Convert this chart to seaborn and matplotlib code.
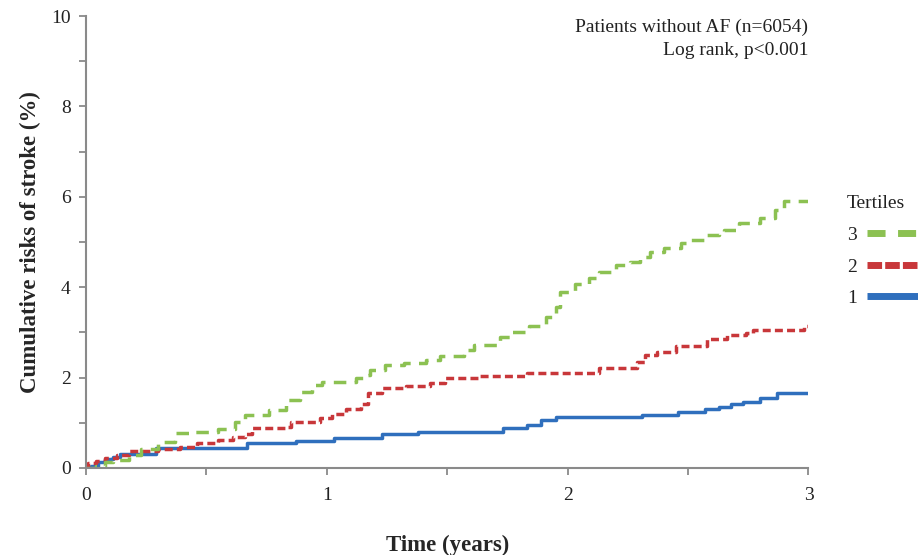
import pandas as pd
import matplotlib
matplotlib.use("Agg")
import matplotlib.pyplot as plt
from matplotlib.lines import Line2D
from matplotlib.ticker import MultipleLocator
import seaborn as sns

# Kaplan-Meier style cumulative stroke risk (%) by tertile, step points
t1_time = [0.00, 0.02, 0.05, 0.08, 0.11, 0.14, 0.29, 0.67, 0.87, 1.03, 1.23, 1.38,
           1.73, 1.83, 1.89, 1.95, 2.31, 2.46, 2.57, 2.63, 2.68, 2.73, 2.80, 2.87, 3.00]
t1_risk = [0.00, 0.05, 0.12, 0.19, 0.25, 0.30, 0.44, 0.55, 0.60, 0.65, 0.75, 0.80,
           0.88, 0.95, 1.06, 1.13, 1.17, 1.24, 1.30, 1.35, 1.42, 1.46, 1.55, 1.66, 1.66]

t2_time = [0.00, 0.01, 0.04, 0.08, 0.13, 0.18, 0.30, 0.39, 0.46, 0.55, 0.61, 0.66,
           0.69, 0.83, 0.85, 0.97, 1.02, 1.08, 1.14, 1.17, 1.23, 1.33, 1.43, 1.49,
           1.63, 1.83, 2.13, 2.29, 2.32, 2.37, 2.45, 2.58, 2.66, 2.74, 2.77, 2.98, 3.00]
t2_risk = [0.00, 0.10, 0.15, 0.22, 0.28, 0.38, 0.42, 0.47, 0.55, 0.62, 0.69, 0.75,
           0.88, 0.91, 1.02, 1.10, 1.20, 1.30, 1.41, 1.66, 1.77, 1.81, 1.87, 1.98,
           2.03, 2.10, 2.20, 2.34, 2.50, 2.57, 2.70, 2.85, 2.94, 2.99, 3.05, 3.14, 3.14]

t3_time = [0.00, 0.04, 0.08, 0.11, 0.18, 0.23, 0.30, 0.37, 0.44, 0.55, 0.62, 0.66,
           0.76, 0.83, 0.89, 0.94, 0.98, 1.12, 1.16, 1.18, 1.24, 1.32, 1.41, 1.47,
           1.57, 1.61, 1.72, 1.76, 1.84, 1.91, 1.95, 1.97, 2.03, 2.09, 2.13, 2.20,
           2.26, 2.30, 2.34, 2.40, 2.47, 2.51, 2.57, 2.63, 2.65, 2.71, 2.80, 2.86,
           2.90, 3.00]
t3_risk = [0.00, 0.05, 0.12, 0.18, 0.29, 0.42, 0.58, 0.78, 0.80, 0.86, 1.02, 1.17,
           1.28, 1.50, 1.68, 1.84, 1.90, 2.00, 2.05, 2.17, 2.28, 2.32, 2.39, 2.48,
           2.60, 2.72, 2.90, 3.00, 3.14, 3.34, 3.56, 3.90, 4.08, 4.20, 4.33, 4.49,
           4.56, 4.67, 4.78, 4.87, 4.97, 5.04, 5.15, 5.20, 5.27, 5.42, 5.53, 5.70,
           5.90, 5.93]

tertile_labels = ["3", "2", "1"]
colors = {"1": "#2f6fbd", "2": "#c8373a", "3": "#8cc152"}
line_dashes = {"1": None, "2": (2.3, 1.2), "3": (3.6, 2.4)}
legend_dashes = {"1": None, "2": (2.1, 0.45), "3": (2.6, 1.8)}

series = {"1": (t1_time, t1_risk), "2": (t2_time, t2_risk), "3": (t3_time, t3_risk)}

sns.set_theme(style="ticks")
plt.rcParams["font.family"] = ["Liberation Serif", "DejaVu Serif"]

fig = plt.figure(figsize=(9.18, 5.55), dpi=100)
ax = fig.add_axes([0.0937, 0.157, 0.787, 0.814])

for key in ["1", "2", "3"]:
    tt, rr = series[key]
    df = pd.DataFrame({"time": tt, "risk": rr})
    sns.lineplot(data=df, x="time", y="risk", ax=ax, color=colors[key],
                 drawstyle="steps-post", estimator=None, sort=False,
                 linewidth=2.5, legend=False)
    line = ax.lines[-1]
    if line_dashes[key] is not None:
        line.set_dashes(line_dashes[key])
        line.set_dash_capstyle("butt")

ax.set_xlim(0, 3)
ax.set_ylim(0, 10)
ax.xaxis.set_major_locator(MultipleLocator(1))
ax.xaxis.set_minor_locator(MultipleLocator(0.5))
ax.yaxis.set_major_locator(MultipleLocator(2))
ax.yaxis.set_minor_locator(MultipleLocator(1))

spine_col = "#8a8a8a"
for s in ["top", "right"]:
    ax.spines[s].set_visible(False)
for s in ["left", "bottom"]:
    ax.spines[s].set_color(spine_col)
    ax.spines[s].set_linewidth(1.5)
ax.tick_params(which="both", direction="out", length=5, width=1.3,
               color=spine_col, labelsize=14, labelcolor="#222222", pad=6)
ax.tick_params(axis="x", pad=9)

ax.set_xlabel("Time (years)", fontsize=16.5, fontweight="bold", labelpad=22)
ax.set_ylabel("Cumulative risks of stroke (%)", fontsize=16.5, fontweight="bold",
              labelpad=7)

ax.text(1.0, 0.995, "Patients without AF (n=6054)\nLog rank, p<0.001",
        transform=ax.transAxes, ha="right", va="top", fontsize=14,
        color="#222222", linespacing=1.45)

handles = []
for key in tertile_labels:
    h = Line2D([0], [0], color=colors[key], linewidth=5, solid_capstyle="butt")
    if legend_dashes[key] is not None:
        h.set_dashes(legend_dashes[key])
        h.set_dash_capstyle("butt")
    handles.append(h)

# tertile number on the left, line sample on the right (runs off the edge)
leg = ax.legend(handles, tertile_labels, title="Tertiles", loc="upper left",
                bbox_to_anchor=(1.029, 0.642), frameon=False, markerfirst=False,
                handlelength=3.4, handletextpad=0.5, labelspacing=0.72,
                fontsize=14, title_fontsize=14, alignment="left")
for txt in leg.get_texts():
    txt.set_color("#222222")
leg.get_title().set_color("#222222")
leg.set_in_layout(False)

fig.savefig("out.png", dpi=100)
